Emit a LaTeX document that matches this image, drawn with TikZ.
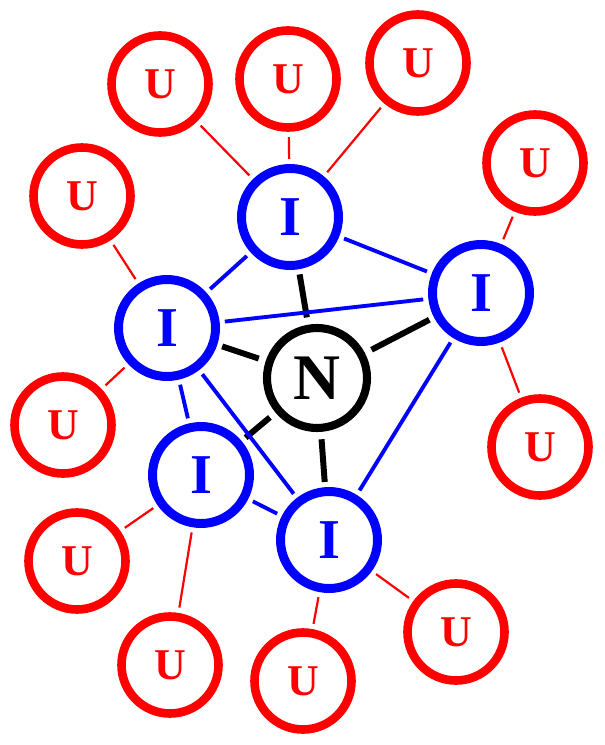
\documentclass[tikz,border=0pt]{standalone}
\usepackage{fontspec}
\setmainfont{Liberation Serif}
\usepackage{tikz}
\usepackage{xcolor}
\definecolor{outer}{RGB}{255,0,0}
\definecolor{inner}{RGB}{0,0,255}
\definecolor{core}{RGB}{0,0,0}

\begin{document}
\begin{tikzpicture}[
    every node/.style={font=\bfseries},
    ball/.style={
        circle,
        draw,
        fill=white,
        inner sep=0pt,
        outer sep=5.5pt,
        minimum size=1.94cm
    },
    unode/.style={
        ball,
        draw=outer,
        text=outer,
        line width=4.9pt,
        font=\bfseries\fontsize{25}{30}\selectfont
    },
    inode/.style={
        ball,
        draw=inner,
        text=inner,
        line width=5.1pt,
        font=\bfseries\fontsize{32}{38}\selectfont
    },
    nnode/.style={
        ball,
        draw=core,
        text=core,
        line width=4.6pt,
        minimum size=2.0cm,
        outer sep=6.5pt,
        font=\bfseries\fontsize{37}{44}\selectfont
    }
]

\useasboundingbox (0,0) rectangle (12.08,-14.90);

\node[
    nnode
] (nuc) at (6.34,-7.56)
{N};

\node[
    inode
] (itop) at (5.80,-4.34)
{I};

\node[
    inode
] (ileft) at (3.34,-6.56)
{I};

\node[
    inode
] (iright) at (9.62,-5.86)
{I};

\node[
    inode
] (ilow) at (4.02,-9.50)
{I};

\node[
    inode
] (ibottom) at (6.58,-10.80)
{I};

\node[unode] (u1) at (3.20,-1.68) {U};
\node[unode] (u2) at (5.76,-1.58) {U};
\node[unode] (u3) at (8.36,-1.26) {U};
\node[unode] (u4) at (1.64,-3.92) {U};
\node[unode] (u5) at (10.70,-3.26) {U};
\node[unode] (u6) at (1.26,-8.50) {U};
\node[unode] (u7) at (10.80,-8.94) {U};
\node[unode] (u8) at (1.54,-11.22) {U};
\node[unode] (u9) at (3.40,-13.30) {U};
\node[unode] (u10) at (6.06,-13.62) {U};
\node[unode] (u11) at (9.12,-12.64) {U};

\draw[
    line width=3.4pt,
    core
]
(nuc) -- (itop)
(nuc) -- (ileft)
(nuc) -- (iright)
(nuc) -- (ilow)
(nuc) -- (ibottom);

\draw[
    line width=2.2pt,
    inner
]
(itop) -- (ileft)
(itop) -- (iright)
(ileft) -- (iright)
(ileft) -- (ilow)
(ileft) -- (ibottom)
(iright) -- (ibottom)
(ilow) -- (ibottom);

\draw[
    line width=1.25pt,
    outer
]
(u1) -- (itop)
(u2) -- (itop)
(u3) -- (itop)
(u4) -- (ileft)
(u6) -- (ileft)
(u5) -- (iright)
(u7) -- (iright)
(u8) -- (ilow)
(u9) -- (ilow)
(u10) -- (ibottom)
(u11) -- (ibottom);

\end{tikzpicture}
\end{document}
